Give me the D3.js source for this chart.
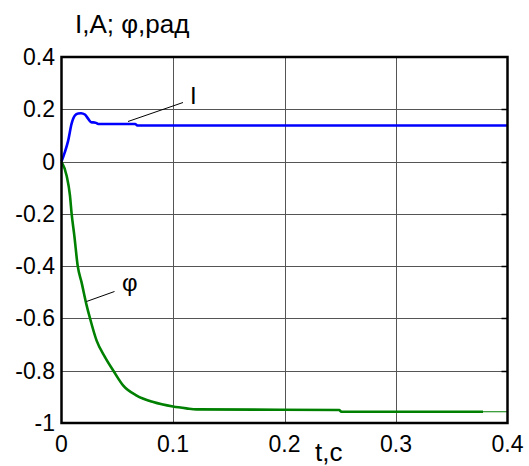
<!DOCTYPE html>
<html>
<head>
<meta charset="UTF-8">
<title>I, phi vs t</title>
<style>
    body { margin: 0; padding: 0; background: #fff; }
    svg { display: block; font-family: Arial, 'Liberation Sans', sans-serif; }
    .grid line { stroke: #555; stroke-width: 1px; shape-rendering: crispEdges; }
</style>
</head>
<body>
<svg></svg>
<script src="https://d3js.org/d3.v7.min.js"></script>
<script>

// data
let xTicks = [0, 0.1, 0.2, 0.3, 0.4];
let yTicks = [0.4, 0.2, 0, -0.2, -0.4, -0.6, -0.8, -1];

let tI   = [0, 0.003, 0.006, 0.009, 0.012, 0.015, 0.0175, 0.021, 0.024, 0.027, 0.0285, 0.031, 0.033, 0.066, 0.068, 0.4];
let valI = [0, 0.036, 0.080, 0.144, 0.176, 0.184, 0.185, 0.180, 0.163, 0.150, 0.150, 0.148, 0.144, 0.144, 0.138, 0.138];

let tPhi   = [0, 0.0046, 0.0076, 0.0091, 0.0115, 0.0145, 0.018, 0.0226, 0.0256, 0.0315, 0.039, 0.0465, 0.0554, 0.0674, 0.0823, 0.100, 0.112, 0.121, 0.249, 0.251, 0.378];
let valPhi = [0, -0.054, -0.13, -0.2, -0.283, -0.398, -0.462, -0.551, -0.60, -0.685, -0.748, -0.80, -0.857, -0.895, -0.92, -0.937, -0.944, -0.948, -0.950, -0.957, -0.957];
let tPhiTail   = [0.378, 0.4];
let valPhiTail = [-0.957, -0.957];

// dimensions
let w = 529, h = 466;
let mLeft = 61.5, mRight = 507.5, mTop = 57, mBottom = 423;

let svg = d3.select("svg")
    .attr("width", w)
    .attr("height", h);

let x = d3.scaleLinear().domain([0, 0.4]).range([mLeft, mRight]);
let y = d3.scaleLinear().domain([-1, 0.4]).range([mBottom, mTop]);

// grid
let grid = svg.append("g").attr("class", "grid");
grid.selectAll(".gx")
    .data(xTicks.slice(1, -1))
    .enter().append("line")
    .attr("x1", d => Math.round(x(d)) + 0.5).attr("x2", d => Math.round(x(d)) + 0.5)
    .attr("y1", mTop).attr("y2", mBottom);
grid.selectAll(".gy")
    .data(yTicks.slice(1, -1))
    .enter().append("line")
    .attr("y1", d => Math.round(y(d)) + 0.5).attr("y2", d => Math.round(y(d)) + 0.5)
    .attr("x1", mLeft).attr("x2", mRight);

// small inner ticks on the right side
svg.append("g").selectAll("line")
    .data(yTicks.slice(1, -1))
    .enter().append("line")
    .attr("x1", mRight - 6).attr("x2", mRight)
    .attr("y1", d => Math.round(y(d)) + 0.5).attr("y2", d => Math.round(y(d)) + 0.5)
    .attr("stroke", "#000").attr("stroke-width", 1.5);

// curves
let lineI = d3.line().x((d, i) => x(tI[i])).y(d => y(d)).curve(d3.curveMonotoneX);
let linePhi = d3.line().x((d, i) => x(tPhi[i])).y(d => y(d)).curve(d3.curveMonotoneX);
let lineTail = d3.line().x((d, i) => x(tPhiTail[i])).y(d => y(d));

svg.append("path")
    .attr("d", linePhi(valPhi))
    .attr("fill", "none").attr("stroke", "#008000").attr("stroke-width", 2.6);
svg.append("path")
    .attr("d", lineTail(valPhiTail))
    .attr("fill", "none").attr("stroke", "#008000").attr("stroke-width", 1);
svg.append("path")
    .attr("d", lineI(valI))
    .attr("fill", "none").attr("stroke", "#0000ff").attr("stroke-width", 2.6);

// frame
svg.append("rect")
    .attr("x", mLeft).attr("y", mTop)
    .attr("width", mRight - mLeft).attr("height", mBottom - mTop)
    .attr("fill", "none").attr("stroke", "#000").attr("stroke-width", 2.5);

// tick labels
svg.append("g").selectAll("text")
    .data(yTicks)
    .enter().append("text")
    .attr("x", 55).attr("y", d => y(d) + 8)
    .attr("text-anchor", "end")
    .attr("font-size", 23)
    .text(d => String(d));

svg.append("g").selectAll("text")
    .data(xTicks)
    .enter().append("text")
    .attr("x", d => x(d)).attr("y", 452)
    .attr("text-anchor", "middle")
    .attr("font-size", 23)
    .text(d => String(d));

// axis titles
svg.append("text").attr("x", 75).attr("y", 33).attr("font-size", 26).text("I,A; φ,рад");
svg.append("text").attr("x", 315).attr("y", 461).attr("font-size", 26).text("t,c");

// annotations
svg.append("line")
    .attr("x1", 128).attr("y1", 121.5).attr("x2", 183).attr("y2", 102.5)
    .attr("stroke", "#000").attr("stroke-width", 1);
svg.append("text").attr("x", 190).attr("y", 104).attr("font-size", 24).text("I");

svg.append("line")
    .attr("x1", 86.5).attr("y1", 301.5).attr("x2", 114.5).attr("y2", 291.5)
    .attr("stroke", "#000").attr("stroke-width", 1);
svg.append("text").attr("x", 122).attr("y", 291).attr("font-size", 24).text("φ");

</script>
</body>
</html>
